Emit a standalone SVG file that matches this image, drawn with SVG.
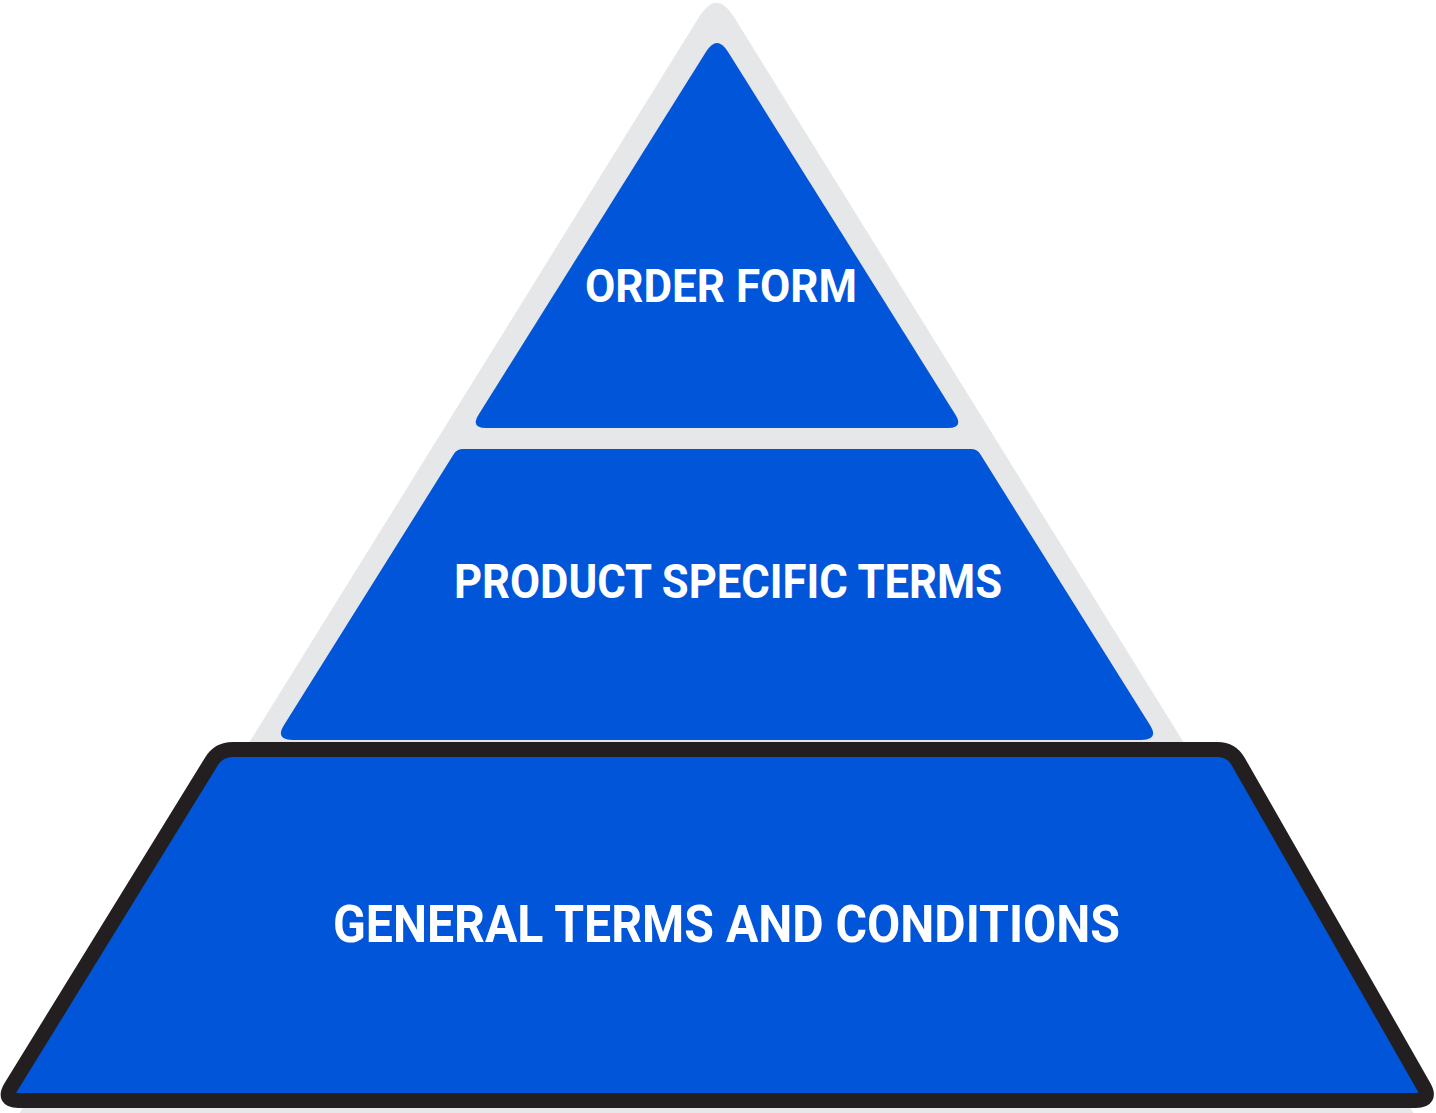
<svg xmlns="http://www.w3.org/2000/svg" width="1436" height="1113" viewBox="0 0 1436 1113">
  <style>
    .tier { fill: #0055D8; }
    .label { fill: #FFFFFF; font-family: Roboto, "Noto Sans", "Liberation Sans", sans-serif; font-weight: 700; text-anchor: middle; }
  </style>
  <rect width="1436" height="1113" fill="#FFFFFF"/>
  <g id="background-pyramid">
    <path d="M 699.5 16.3 Q 716.5 -11 733.5 16.3 L 1417.8 1120 L 15.2 1120 Z" fill="#E6E7E8"/>
  </g>
  <g id="connectors"></g>
  <g id="order-form">
    <path class="tier" d="M 706.2 51.6 Q 717 34.4 727.8 51.6 L 955.3 414.4 Q 963.8 428 947.8 428 L 486.2 428 Q 470.2 428 478.7 414.4 Z"/>
    <text class="label" x="721" y="302" font-size="46" textLength="272" lengthAdjust="spacingAndGlyphs">ORDER FORM</text>
  </g>
  <g id="product-specific-terms">
    <path class="tier" d="M 463 449 L 971 449 Q 977 449 980.2 454.1 L 1149.8 724.7 Q 1159.4 740 1141.4 740 L 292.6 740 Q 274.6 740 284.2 724.7 L 453.8 454.1 Q 457 449 463 449 Z"/>
    <text class="label" x="728" y="598" font-size="48" textLength="548" lengthAdjust="spacingAndGlyphs">PRODUCT SPECIFIC TERMS</text>
  </g>
  <g id="general-terms-and-conditions">
    <path d="M 232.8 749.5 L 1217.4 749.5 Q 1231.4 749.5 1238.3 761.7 L 1423.8 1086.6 Q 1431.7 1100.5 1415.7 1100.5 L 18.6 1100.5 Q 2.6 1100.5 11 1086.9 L 211.5 761.4 Q 218.8 749.5 232.8 749.5 Z" fill="#0055D8" stroke="#231F20" stroke-width="15" stroke-linejoin="round"/>
    <text class="label" x="726.5" y="942" font-size="51" textLength="787" lengthAdjust="spacingAndGlyphs">GENERAL TERMS AND CONDITIONS</text>
  </g>
</svg>
